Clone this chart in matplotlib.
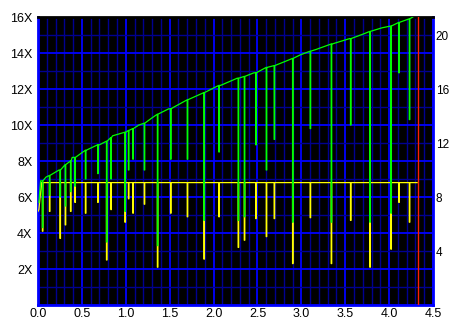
import matplotlib
matplotlib.use("Agg")
import matplotlib.pyplot as plt
from matplotlib.ticker import FixedLocator, MultipleLocator

plt.rcParams["font.family"] = ["Liberation Sans", "DejaVu Sans"]

# green trace: upper envelope
env_x = [0.01, 0.03, 0.09, 0.24, 0.39, 0.55, 0.70, 0.85, 1.00, 1.15, 1.30,
         1.49, 1.55, 1.70, 1.89, 2.08, 2.27, 2.46, 2.61, 2.80, 2.99, 3.17,
         3.35, 3.55, 3.73, 3.92, 4.11, 4.27]
env_green = [5.7, 6.9, 7.1, 7.5, 8.2, 8.6, 8.9, 9.4, 9.6, 10.0, 10.4,
             10.9, 11.0, 11.4, 11.8, 12.2, 12.6, 12.9, 13.2, 13.5, 13.9, 14.2,
             14.5, 14.8, 15.1, 15.4, 15.7, 16.0]

# yellow trace: start-up ramp then flat level
yellow_x = [0.0, 0.01, 0.04, 4.32]
yellow = [5.2, 5.3, 6.8, 6.8]
yellow_level = 6.8

# dropouts: position, green top, green low, yellow low
dip_x = [0.05, 0.13, 0.25, 0.31, 0.37, 0.42, 0.54, 0.68, 0.78, 0.83, 0.99,
         1.03, 1.08, 1.21, 1.36, 1.51, 1.70, 1.89, 2.06, 2.28, 2.35, 2.48,
         2.60, 2.69, 2.90, 3.10, 3.34, 3.56, 3.78, 4.02, 4.11, 4.23]
dip_top = [6.9, 7.2, 7.5, 7.8, 8.0, 8.2, 8.6, 8.9, 9.1, 9.3, 9.6,
           9.7, 9.8, 10.1, 10.6, 10.9, 11.4, 11.8, 12.2, 12.6, 12.7, 12.9,
           13.2, 13.3, 13.7, 14.1, 14.5, 14.8, 15.2, 15.5, 15.7, 15.9]
dip_green = [4.3, 6.1, 6.0, 5.5, 6.3, 6.6, 7.0, 7.3, 3.5, 7.0, 5.2,
             7.5, 8.1, 7.5, 3.3, 8.1, 8.1, 4.7, 8.5, 4.7, 4.9, 8.9,
             7.5, 9.2, 4.6, 9.8, 4.6, 10.0, 4.6, 5.1, 12.9, 10.3]
dip_yellow = [4.1, 5.2, 3.7, 4.45, 5.2, 5.7, 5.1, 5.7, 2.5, 5.3, 4.6,
              5.9, 5.1, 5.6, 2.1, 5.1, 4.9, 2.55, 4.9, 3.2, 3.6, 4.8,
              3.8, 4.8, 2.3, 4.85, 2.3, 4.7, 2.1, 3.1, 5.7, 4.6]

marker_x = 4.33


def notched(base_x, base_y, tops, lows, w=0.006):
    pts = list(zip(base_x, base_y))
    for x, t, lo in zip(dip_x, tops, lows):
        pts += [(x - 1e-4, t), (x, lo), (x + w, lo), (x + w + 1e-4, t)]
    pts.sort(key=lambda p: p[0])
    return [p[0] for p in pts], [p[1] for p in pts]


fig = plt.figure(figsize=(4.51, 3.22), dpi=100)
ax = fig.add_axes([38 / 451, 17 / 322, 395 / 451, 288 / 322])
ax.set_facecolor("black")
ax.set_xlim(0, 4.5)
ax.set_ylim(0, 16)

ax.xaxis.set_major_locator(MultipleLocator(0.5))
ax.xaxis.set_minor_locator(MultipleLocator(0.1))
ax.yaxis.set_major_locator(FixedLocator(range(2, 17, 2)))
ax.yaxis.set_minor_locator(MultipleLocator(1))
ax.set_yticklabels([f"{v}X" for v in range(2, 17, 2)])
ax.set_xticklabels([f"{v:.1f}" for v in ax.get_xticks()])
ax.grid(which="minor", color="#000090", lw=1.0)
ax.grid(which="major", color="#0000ff", lw=1.3)
ax.tick_params(which="both", length=0, labelsize=9, pad=4)
ax.tick_params(axis="x", pad=2)

for s in ("left", "right", "bottom"):
    ax.spines[s].set_color("#0000ff")
    ax.spines[s].set_linewidth(2)
ax.spines["top"].set_color("black")
ax.spines["top"].set_linewidth(2)

yx, yy = notched(yellow_x, yellow, [yellow_level] * len(dip_x), dip_yellow)
ax.plot(yx, yy, color="#ffff00", lw=0.9, zorder=3)
gx, gy = notched(env_x, env_green, dip_top, dip_green)
ax.plot(gx, gy, color="#00ff00", lw=0.9, zorder=4)
ax.axvline(marker_x, color="#ff2000", lw=1.0, zorder=5)

ax2 = ax.twinx()
ax2.set_ylim(0, 16 * 4 / 3)
ax2.set_yticks([4, 8, 12, 16, 20])
ax2.tick_params(length=0, labelsize=8.5, pad=2)
for s in ax2.spines.values():
    s.set_visible(False)

fig.savefig("out.png", dpi=100, facecolor="white")
